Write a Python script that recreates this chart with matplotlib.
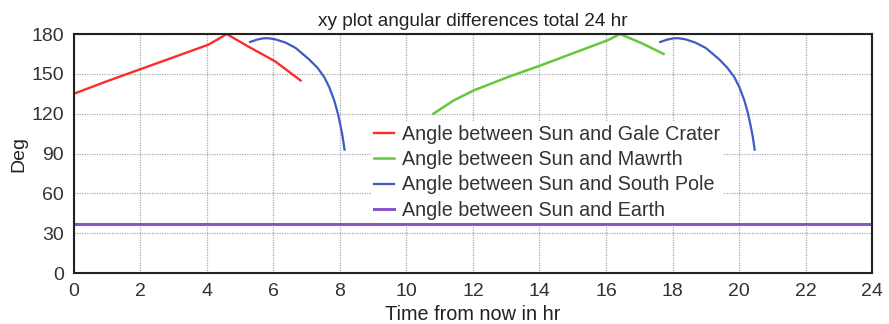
import numpy as np
import matplotlib
matplotlib.use("agg")
import matplotlib.pyplot as plt

plt.rcParams['font.family'] = ['Liberation Sans', 'DejaVu Sans']

# angle between Sun and each target (deg) vs time from now (hr)
gale_t = [0.0, 1.0, 2.0, 3.0, 4.05, 4.6, 5.25, 6.05, 6.82]
gale_deg = [135.0, 144.5, 153.5, 162.5, 172.0, 180.0, 170.5, 159.5, 145.0]

mawrth_t = [10.81, 11.42, 12.02, 13.04, 14.05, 15.06, 16.07, 16.42, 17.08, 17.73]
mawrth_deg = [120.0, 130.0, 137.5, 147.5, 156.5, 166.0, 175.5, 180.0, 173.0, 165.0]

pole1_t = [5.3, 5.51, 5.71, 5.86, 6.06, 6.37, 6.67, 7.07, 7.33, 7.53, 7.68, 7.83,
           7.93, 8.01, 8.08, 8.14]
pole1_deg = [174.0, 175.8, 176.8, 176.8, 176.0, 173.5, 169.5, 161.0, 154.5, 147.5,
             140.0, 130.0, 121.0, 112.0, 103.0, 93.0]

pole2_t = [17.63, 17.84, 18.04, 18.19, 18.39, 18.69, 19.0, 19.4, 19.65, 19.86, 20.01, 20.16,
           20.26, 20.34, 20.41, 20.47]
pole2_deg = [174.0, 175.8, 176.8, 176.8, 176.0, 173.5, 169.5, 161.0, 154.5, 147.5,
             140.0, 130.0, 121.0, 112.0, 103.0, 93.0]

earth_t = [0.0, 24.0]
earth_deg = [37.0, 37.0]

fig = plt.figure(figsize=(8.89, 3.24), dpi=100)
ax = fig.add_axes([0.083, 0.157, 0.898, 0.738])

ax.plot(gale_t, gale_deg, color="#ff2b2b", lw=1.7, label="Angle between Sun and Gale Crater")
ax.plot(mawrth_t, mawrth_deg, color="#67c73c", lw=1.8, label="Angle between Sun and Mawrth")
ax.plot(pole1_t, pole1_deg, color="#3f5bc4", lw=1.6, label="Angle between Sun and South Pole")
ax.plot(pole2_t, pole2_deg, color="#3f5bc4", lw=1.6)
ax.plot(earth_t, earth_deg, color="#8a55c4", lw=2.2, label="Angle between Sun and Earth")

ax.set_xlim(0, 24)
ax.set_ylim(0, 180)
ax.set_xticks(np.arange(0, 25, 2))
ax.set_yticks(np.arange(0, 181, 30))
ax.tick_params(length=0, labelsize=14, pad=7, colors="#333333")
ax.grid(True, color="#aaaaaa", linestyle=(0, (1, 1)), lw=0.9)
for s in ax.spines.values():
    s.set_linewidth(1.5)
    s.set_color("#222222")

ax.set_title("xy plot angular differences total 24 hr", fontsize=13.7, color="#222222", pad=6)
ax.set_xlabel("Time from now in hr", fontsize=14.3, color="#222222", labelpad=4)
ax.set_ylabel("Deg", fontsize=14, color="#222222", labelpad=3)

leg = ax.legend(loc="upper left", bbox_to_anchor=(0.36, 0.672), frameon=True,
                fontsize=14.2, handlelength=1.0, handletextpad=0.4,
                labelspacing=0.31, borderpad=0.15, framealpha=1.0)
leg.get_frame().set_edgecolor("none")
for t in leg.get_texts():
    t.set_color("#333333")

fig.savefig("out.png", dpi=100)
